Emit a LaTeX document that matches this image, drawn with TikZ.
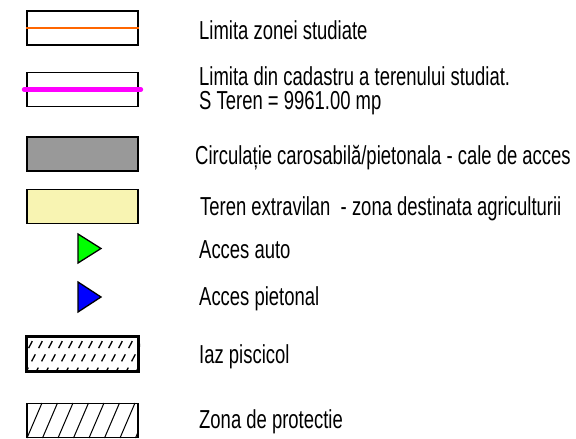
\documentclass[tikz,border=0pt]{standalone}
\usepackage{fontspec}
\setmainfont{Liberation Sans}[FakeStretch=0.71]
\usetikzlibrary{positioning}

\definecolor{limorange}{HTML}{FF6600}
\definecolor{limmagenta}{HTML}{FF00FF}
\definecolor{drumgray}{HTML}{999999}
\definecolor{agriyellow}{HTML}{F8F4B2}

\tikzset{
	legbox/.style={draw, line width=1.4pt, minimum width=111pt, minimum height=34pt, inner sep=0pt},
	lbl/.style={anchor=base west, inner sep=0pt, font=\fontsize{26}{30}\selectfont},
	accarrow/.style={draw, line width=1.3pt, line join=miter}
}

\begin{document}
\begin{tikzpicture}[x=1pt,y=-1pt]

		\useasboundingbox (0,0) rectangle (576,439);

		% simboluri
		\node [legbox] (zona) at (82.5,28) {};
		\draw [limorange, line width=2.2pt] (zona.west) -- (zona.east);

		\node [legbox] (cadastru) at (82.5,89.5) {};
		\draw [limmagenta, line width=5pt, line cap=round] ([xshift=-2pt]cadastru.west) -- ([xshift=2pt]cadastru.east);

		\node [legbox, fill=drumgray] (drum) at (82.5,154) {};
		\node [legbox, fill=agriyellow] (agri) at (82.5,206.5) {};

		\draw [accarrow, fill=green] (78,234) -- (101,248.5) -- (78,263) -- cycle;
		\draw [accarrow, fill=blue] (78,282) -- (101,297) -- (78,312) -- cycle;

		\node [legbox, line width=3pt, minimum width=112pt, minimum height=35pt] (iaz) at (82.5,354) {};
		\begin{scope}
			\clip (iaz.south west) rectangle (iaz.north east);
			\foreach \i in {-2,...,12}
				\draw [line width=1.3pt, dash pattern=on 8pt off 7pt, dash phase=3pt] (16+10*\i,372) -- (35+10*\i,336);
		\end{scope}
		\node [legbox, line width=3pt, minimum width=112pt, minimum height=35pt] at (82.5,354) {};

		\node [legbox] (protectie) at (82.5,420.5) {};
		\begin{scope}
			\clip (protectie.south west) rectangle (protectie.north east);
			\foreach \i in {-1,...,8}
				\draw [line width=1pt] (27+15.5*\i,438) -- (42+15.5*\i,403);
		\end{scope}

		% texte
		\node [lbl] (t-zona) at (199,39) {Limita zonei studiate};
		\node [lbl] (t-cadastru) at (199,85) {Limita din cadastru a terenului studiat.};
		\node [lbl] (t-suprafata) at (199,109) {S Teren = 9961.00 mp};
		\node [lbl] (t-drum) at (195,164) {Circulație carosabilă/pietonala - cale de acces};
		\node [lbl] (t-agri) at (200,215) {Teren extravilan \ - zona destinata agriculturii};
		\node [lbl] (t-auto) at (199,258) {Acces auto};
		\node [lbl] (t-pieton) at (199,305) {Acces pietonal};
		\node [lbl] (t-iaz) at (199,363) {Iaz piscicol};
		\node [lbl] (t-protectie) at (199,428) {Zona de protectie};

\end{tikzpicture}
\end{document}
